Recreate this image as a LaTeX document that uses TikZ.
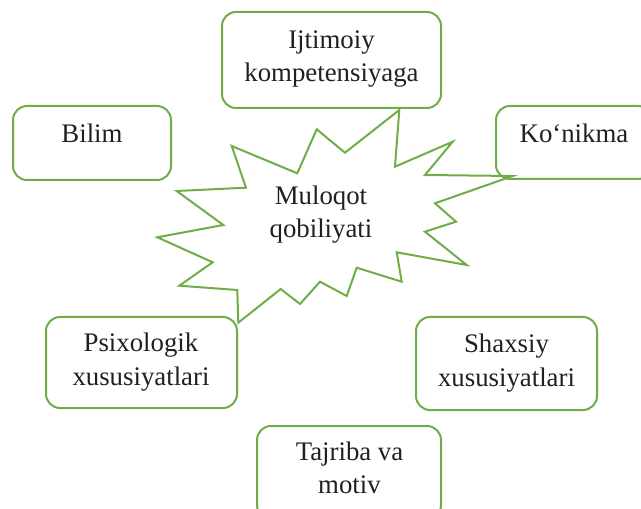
\documentclass[tikz,border=0pt]{standalone}
\usepackage{fontspec}
\setmainfont{Liberation Serif}
\definecolor{leafgreen}{RGB}{112,173,71}
\definecolor{inkgray}{RGB}{35,31,32}

\tikzset{
  wordbox/.style={leafgreen, line width=1bp, rounded corners=7bp},
  burst/.style={leafgreen, line width=1bp, line join=miter},
  caption/.style={anchor=base, align=center, inner sep=0pt, text=inkgray,
    font=\fontsize{13.4bp}{16.5bp}\selectfont}
}

\begin{document}
\begin{tikzpicture}[x=0.5bp, y=-0.5bp]
    % page frame, in pixels of the original
    \useasboundingbox (0,0) rectangle (641,509);
    \clip (0,0) rectangle (641,509);

    % the star in the middle
    \draw[burst] (399.3,110) -- (395,166.7) -- (452.7,141.7) -- (425,175)
        -- (512.7,176) -- (435,203.3) -- (456,221.7) -- (425,231.7)
        -- (466.7,265) -- (396.7,252.3) -- (401.7,281.7) -- (356.7,267.7)
        -- (346.7,296) -- (320,281.7) -- (300,304) -- (280.7,289)
        -- (238.3,322.7) -- (237.3,290) -- (179.3,285.7) -- (212.7,262.3)
        -- (157.3,237.3) -- (223.3,225) -- (176.7,191) -- (246,187.7)
        -- (231.7,146) -- (297.3,173.3) -- (316.7,129.3) -- (345,152.7)
        -- cycle;

    % the boxes round it
    \foreach \xa/\ya/\xb/\yb in {222/12/441/108, 13/106/171/180, 496/106/652/179,
                                 46/317/237/408, 416/317/597/410, 257/426/441/519}
        \draw[wordbox] (\xa,\ya) rectangle (\xb,\yb);

    % the texts (y is the baseline of the last line)
    \foreach \x/\y/\name/\id in {{331.5/82/{Ijtimoiy\\kompetensiyaga}/ijtimoiy},
                                 {92/143/{Bilim}/bilim},
                                 {574/143/{Ko‘nikma}/konikma},
                                 {321/238/{Muloqot\\qobiliyati}/muloqot},
                                 {141/385/{Psixologik\\xususiyatlari}/psixologik},
                                 {506.5/386/{Shaxsiy\\xususiyatlari}/shaxsiy},
                                 {349.5/493/{Tajriba va\\motiv}/tajriba}}
        \node[caption] (\id) at (\x,\y) {\name};

\end{tikzpicture}
\end{document}
